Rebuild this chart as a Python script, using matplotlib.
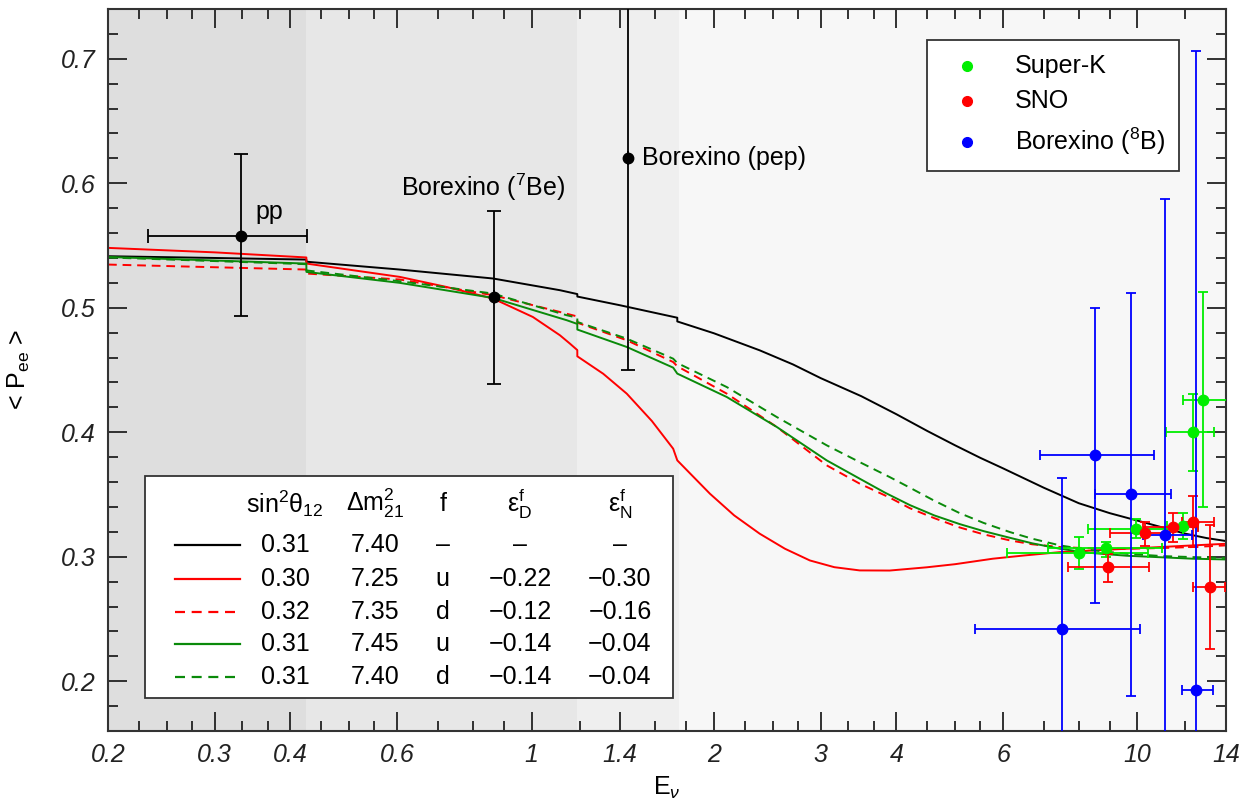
import numpy as np
import matplotlib
matplotlib.use('Agg')
from matplotlib import pyplot as plt
from matplotlib.patches import Rectangle
from matplotlib.ticker import FixedLocator, FixedFormatter, NullFormatter

plt.rcParams['font.family'] = ['Liberation Sans', 'DejaVu Sans']
plt.rcParams['mathtext.fontset'] = 'custom'
plt.rcParams['mathtext.rm'] = 'Liberation Sans'
plt.rcParams['mathtext.it'] = 'Liberation Sans:italic'
plt.rcParams['mathtext.bf'] = 'Liberation Sans:bold'

# energy regions (shaded background)
region_edges = [0.2, 0.425, 1.19, 1.75, 14]
region_colors = ['#dedede', '#e7e7e7', '#efefef', '#f7f7f7']

# model curves (E in MeV, <Pee>)
E_black = [0.2, 0.3, 0.425, 0.4251, 0.606, 0.864, 1.114, 1.19, 1.1901, 1.40, 1.74, 1.7401,
           2.0, 2.38, 2.7, 3.0, 3.5, 4.0, 4.5, 5.0, 5.5, 6.0, 7.0, 8.0, 9.0, 10.0, 11.0, 12.0, 13.0, 14.0]
P_black = [0.5414, 0.5400, 0.5387, 0.5370, 0.5307, 0.5235, 0.5141, 0.5110, 0.5090, 0.5020, 0.4920, 0.4890,
           0.4795, 0.4658, 0.4545, 0.4435, 0.4290, 0.4145, 0.4010, 0.3895, 0.3795, 0.3710, 0.3555, 0.3430,
           0.3350, 0.3290, 0.3235, 0.3185, 0.3150, 0.3126]

E_red = [0.2, 0.3, 0.425, 0.4251, 0.606, 0.724, 0.864, 1.005, 1.114, 1.157, 1.19, 1.1901, 1.313, 1.436,
         1.58, 1.713, 1.74, 1.97, 2.16, 2.38, 2.62, 2.88, 3.16, 3.48, 3.90, 4.49, 5.0, 5.77, 6.5, 7.45,
         9.59, 12.34, 14]
P_red = [0.5481, 0.5445, 0.5404, 0.5355, 0.5248, 0.5167, 0.5074, 0.4926, 0.4779, 0.4712, 0.4660, 0.4610,
         0.4470, 0.4310, 0.4090, 0.3868, 0.3774, 0.3506, 0.3332, 0.3185, 0.3064, 0.2970, 0.2916, 0.2890,
         0.2889, 0.2915, 0.2940, 0.2984, 0.3010, 0.3037, 0.3064, 0.3091, 0.3104]

E_red_d = [0.2, 0.425, 0.4251, 0.606, 0.864, 1.114, 1.19, 1.1901, 1.436, 1.713, 1.74,
           2.10, 2.54, 3.07, 3.48, 3.90, 4.21, 4.62, 5.09, 5.57, 6.16, 6.7, 7.45, 8.3, 9.59, 11.0, 12.34, 14]
P_red_d = [0.5347, 0.5307, 0.5275, 0.5227, 0.5101, 0.4966, 0.4930, 0.4880, 0.4739, 0.4564, 0.4530,
           0.4310, 0.4042, 0.3734, 0.3587, 0.3475, 0.3390, 0.3310, 0.3235, 0.3180, 0.3131, 0.3100, 0.3078,
           0.3068, 0.3064, 0.3070, 0.3078, 0.3091]

E_green = [0.2, 0.425, 0.4251, 0.606, 0.864, 1.143, 1.19, 1.1901, 1.436, 1.713, 1.74,
           2.10, 2.54, 3.07, 3.48, 3.83, 4.21, 4.62, 5.09, 5.57, 6.16, 6.7, 7.45, 8.3, 9.59, 11.0, 12.34, 14]
P_green = [0.5408, 0.5355, 0.5288, 0.5200, 0.5079, 0.4900, 0.4870, 0.4825, 0.4685, 0.4519, 0.4471,
           0.4283, 0.4042, 0.3774, 0.3627, 0.3515, 0.3415, 0.3332, 0.3262, 0.3206, 0.3152, 0.3108, 0.3064,
           0.3032, 0.3008, 0.2995, 0.2984, 0.2978]

E_green_d = [0.2, 0.425, 0.4251, 0.606, 0.864, 1.143, 1.19, 1.1901, 1.436, 1.713, 1.74,
             2.10, 2.54, 3.07, 3.48, 3.90, 4.21, 4.62, 5.09, 5.57, 6.16, 6.7, 7.45, 8.3, 9.59, 11.0, 12.34, 14]
P_green_d = [0.5404, 0.5350, 0.5300, 0.5213, 0.5114, 0.4940, 0.4920, 0.4886, 0.4752, 0.4591, 0.4556,
             0.4363, 0.4122, 0.3895, 0.3760, 0.3640, 0.3555, 0.3450, 0.3350, 0.3272, 0.3198, 0.3145, 0.3091,
             0.3055, 0.3024, 0.3005, 0.2997, 0.2990]

# low energy measurements (pp, 7Be, pep)
low_E = [0.332, 0.866, 1.442]
low_P = [0.558, 0.509, 0.620]
low_Elo = [0.233, 0.866, 1.442]
low_Ehi = [0.4256, 0.866, 1.442]
low_Plo = [0.4937, 0.439, 0.450]
low_Phi = [0.6234, 0.578, 0.800]
low_names = ['pp', 'Borexino ($^{7}$Be)', 'Borexino (pep)']

# Super-K
sk_E = [8.01, 8.89, 9.94, 11.9, 12.33, 12.84]
sk_P = [0.303, 0.307, 0.3225, 0.325, 0.400, 0.426]
sk_Elo = [6.08, 7.12, 8.3, 11.2, 11.13, 11.9]
sk_Ehi = [10.4, 10.96, 11.9, 12.6, 13.4, 14.5]
sk_Plo = [0.290, 0.300, 0.315, 0.314, 0.3686, 0.340]
sk_Phi = [0.316, 0.312, 0.330, 0.335, 0.431, 0.513]

# SNO
sno_E = [8.95, 10.29, 11.46, 12.35, 13.17]
sno_P = [0.2916, 0.319, 0.3238, 0.3278, 0.2756]
sno_Elo = [7.69, 9.0, 10.2, 11.83, 12.35]
sno_Ehi = [10.46, 11.3, 12.6, 13.4, 13.97]
sno_Plo = [0.2796, 0.309, 0.312, 0.3077, 0.226]
sno_Phi = [0.3024, 0.328, 0.335, 0.3485, 0.3252]

# Borexino 8B
b8_E = [7.50, 8.50, 9.74, 11.11, 12.47]
b8_P = [0.2421, 0.382, 0.3506, 0.3171, 0.1931]
b8_Elo = [5.40, 6.90, 8.50, 10.22, 11.83]
b8_Ehi = [10.09, 10.66, 11.35, 12.29, 13.34]
b8_Plo = [0.05, 0.2627, 0.1885, 0.05, 0.05]
b8_Phi = [0.3635, 0.500, 0.512, 0.5875, 0.7062]

xmajor = [0.2, 0.3, 0.4, 0.6, 1, 1.4, 2, 3, 4, 6, 10, 14]
xmajor_labels = ['0.2', '0.3', '0.4', '0.6', '1', '1.4', '2', '3', '4', '6', '10', '14']
xminor = [0.225, 0.25, 0.275, 0.333, 0.367, 0.45, 0.5, 0.55, 0.7, 0.8, 0.9, 1.2, 1.6, 1.8,
          2.25, 2.5, 2.75, 3.33, 3.67, 4.5, 5, 5.5, 7, 8, 9, 12]
ymajor = [0.2, 0.3, 0.4, 0.5, 0.6, 0.7]

# table rows
tab_header = ['sin$^{2}$θ$_{12}$', 'Δm$^{2}_{21}$', 'f',
              r'ε$^{\mathrm{f}}_{\mathrm{D}}$', r'ε$^{\mathrm{f}}_{\mathrm{N}}$']
tab_s12 = ['0.31', '0.30', '0.32', '0.31', '0.31']
tab_dm = ['7.40', '7.25', '7.35', '7.45', '7.40']
tab_f = ['–', 'u', 'd', 'u', 'd']
tab_eD = ['–', '−0.22', '−0.12', '−0.14', '−0.14']
tab_eN = ['–', '−0.30', '−0.16', '−0.04', '−0.04']

dark_green = '#0a8a0a'
curves = [(E_black, P_black, 'black', '-'),
          (E_red, P_red, 'red', '-'),
          (E_red_d, P_red_d, 'red', (0, (4.5, 3))),
          (E_green, P_green, dark_green, '-'),
          (E_green_d, P_green_d, dark_green, (0, (4.5, 3)))]

fs = 18
fig = plt.figure(figsize=(12.45, 8.06), dpi=100)
ax = fig.add_axes([108/1245, 1-731/806, 1118/1245, 722/806])

for i in range(4):
    ax.axvspan(region_edges[i], region_edges[i+1], color=region_colors[i], lw=0, zorder=0)

for E, P, c, ls in curves:
    ax.plot(E, P, color=c, ls=ls, lw=1.4, zorder=2)

# data points
def errs(x, lo, hi):
    x = np.array(x); return [x - np.array(lo), np.array(hi) - x]

ax.errorbar(low_E, low_P, xerr=errs(low_E, low_Elo, low_Ehi), yerr=errs(low_P, low_Plo, low_Phi),
            fmt='o', color='black', ms=7.5, lw=1.3, capsize=5, capthick=1.3, zorder=5)
ax.errorbar(sk_E, sk_P, xerr=errs(sk_E, sk_Elo, sk_Ehi), yerr=errs(sk_P, sk_Plo, sk_Phi),
            fmt='o', color='#00ee00', ms=7.5, lw=1.3, capsize=3.5, capthick=1.3, zorder=4)
ax.errorbar(sno_E, sno_P, xerr=errs(sno_E, sno_Elo, sno_Ehi), yerr=errs(sno_P, sno_Plo, sno_Phi),
            fmt='o', color='#ff0000', ms=7.5, lw=1.3, capsize=3.5, capthick=1.3, zorder=4)
ax.errorbar(b8_E, b8_P, xerr=errs(b8_E, b8_Elo, b8_Ehi), yerr=errs(b8_P, b8_Plo, b8_Phi),
            fmt='o', color='#0000ff', ms=7.5, lw=1.3, capsize=3.5, capthick=1.3, zorder=4)

ax.text(0.350, 0.577, low_names[0], fontsize=fs, va='center', ha='left')
ax.text(0.833, 0.597, low_names[1], fontsize=fs, va='center', ha='center')
ax.text(1.52, 0.620, low_names[2], fontsize=fs, va='center', ha='left')

ax.set_xscale('log')
ax.set_xlim(0.2, 14)
ax.set_ylim(0.16, 0.74)
ax.xaxis.set_major_locator(FixedLocator(xmajor))
ax.xaxis.set_major_formatter(FixedFormatter(xmajor_labels))
ax.xaxis.set_minor_locator(FixedLocator(xminor))
ax.xaxis.set_minor_formatter(NullFormatter())
ax.yaxis.set_major_locator(FixedLocator(ymajor))
ax.yaxis.set_minor_locator(FixedLocator(np.arange(0.16, 0.741, 0.02)))
ax.yaxis.set_major_formatter(FixedFormatter(['%.1f' % v for v in ymajor]))
ax.tick_params(which='both', direction='in', top=True, right=True, width=1.3, color='#222222')
ax.tick_params(which='major', length=14, pad=9)
ax.tick_params(which='minor', length=7.5)
for lab in ax.get_xticklabels() + ax.get_yticklabels():
    lab.set_fontstyle('italic')
    lab.set_fontsize(fs)
    lab.set_color('#222222')
for s in ax.spines.values():
    s.set_linewidth(1.5)
    s.set_color('#333333')

ax.set_xlabel(r'E$_{\nu}$', fontsize=fs, labelpad=5)
ax.set_ylabel(r'< P$_{\mathrm{ee}}$ >', fontsize=fs, labelpad=21)

# data legend (top right)
T = ax.transAxes
ax.add_patch(Rectangle((0.7323, 0.7756), 0.2259, 0.181, transform=T, facecolor='white',
                       edgecolor='#333333', lw=1.3, zorder=8))
leg_names = ['Super-K', 'SNO', 'Borexino ($^{8}$B)']
leg_cols = ['#00ee00', '#ff0000', '#0000ff']
leg_y = [0.9215, 0.8726, 0.8163]
for name, c, yy in zip(leg_names, leg_cols, leg_y):
    ax.plot([0.768], [yy], 'o', color=c, ms=7, transform=T, zorder=9)
    ax.text(0.8115, yy, name, fontsize=fs, va='center', ha='left', transform=T, zorder=9)

# parameter table (bottom left)
ax.add_patch(Rectangle((0.0331, 0.0461), 0.4725, 0.3071, transform=T, facecolor='white',
                       edgecolor='#333333', lw=1.3, zorder=8))
col_x = [0.1583, 0.2388, 0.2994, 0.3685, 0.4579]
head_y = 0.315
for cx, h in zip(col_x, tab_header):
    ax.text(cx, head_y, h, fontsize=fs, ha='center', va='center', transform=T, zorder=9)
row_y = [0.2583, 0.2112, 0.1651, 0.1199, 0.0746]
for i in range(5):
    c, ls = curves[i][2], curves[i][3]
    ax.plot([0.0599, 0.1181], [row_y[i], row_y[i]], color=c, ls=ls, lw=1.6, transform=T, zorder=9)
    for cx, val in zip(col_x, [tab_s12[i], tab_dm[i], tab_f[i], tab_eD[i], tab_eN[i]]):
        ax.text(cx, row_y[i], val, fontsize=fs, ha='center', va='center', transform=T, zorder=9)

fig.savefig('out.png', dpi=100)
